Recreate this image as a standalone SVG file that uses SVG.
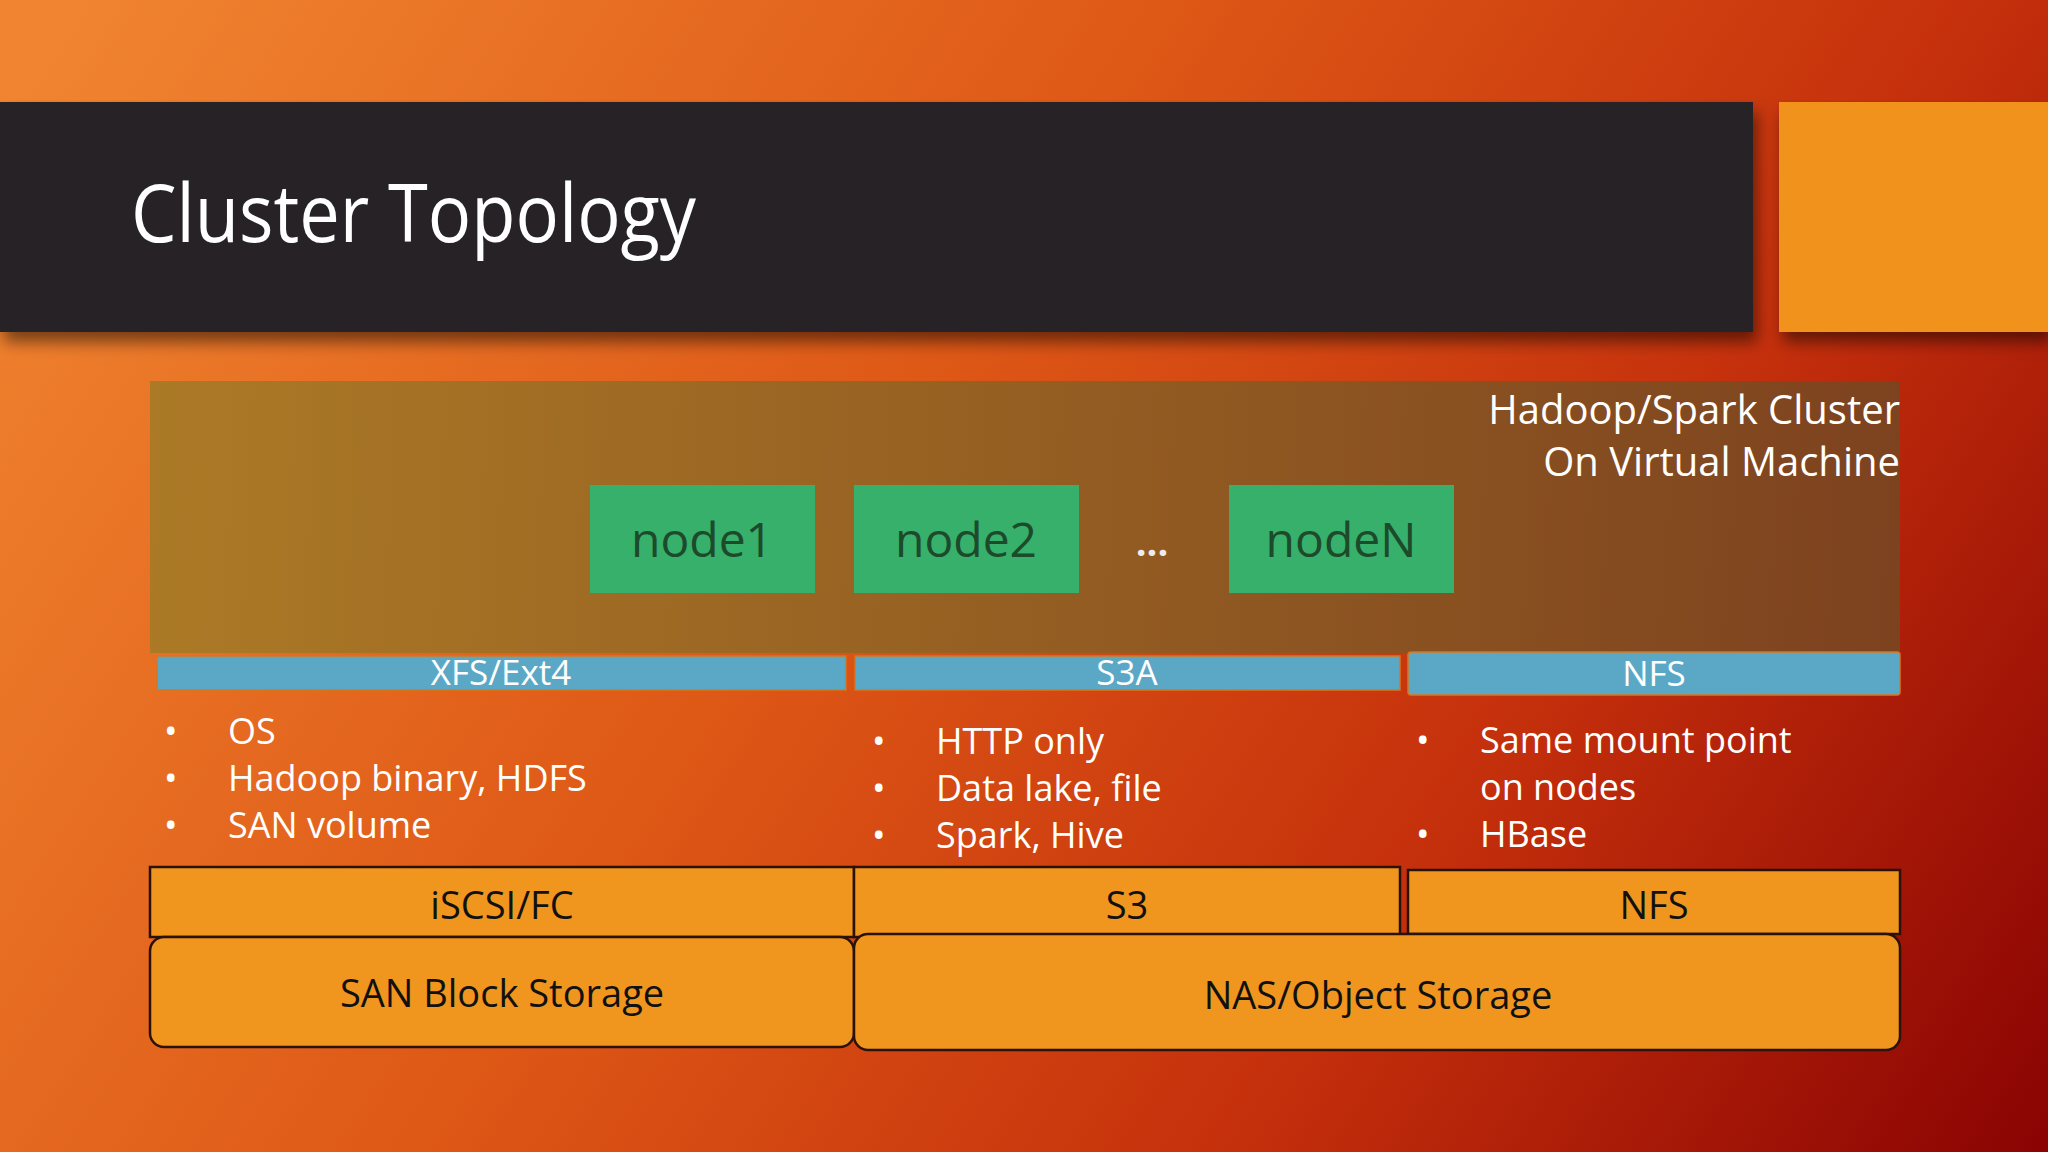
<svg xmlns="http://www.w3.org/2000/svg" width="2048" height="1152" viewBox="0 0 2048 1152">
  <defs>
    <linearGradient id="bg" gradientUnits="userSpaceOnUse" x1="150" y1="-100" x2="2048" y2="1152">
      <stop offset="0" stop-color="#F08430"/>
      <stop offset="0.4" stop-color="#DE5816"/>
      <stop offset="0.7" stop-color="#C5300C"/>
      <stop offset="1" stop-color="#8A0303"/>
    </linearGradient>
    <linearGradient id="cluster" x1="0" y1="0" x2="1" y2="0">
      <stop offset="0" stop-color="#A87A26" stop-opacity="0.95"/>
      <stop offset="1" stop-color="#7A4420" stop-opacity="0.95"/>
    </linearGradient>
    <filter id="shadow" x="-5%" y="-5%" width="110%" height="130%">
      <feGaussianBlur in="SourceAlpha" stdDeviation="8"/>
      <feOffset dx="4" dy="10"/>
      <feComponentTransfer><feFuncA type="linear" slope="0.5"/></feComponentTransfer>
      <feMerge><feMergeNode/><feMergeNode in="SourceGraphic"/></feMerge>
    </filter>
  </defs>
  <style>
    text { font-family: "Open Sans", "Noto Sans", "Liberation Sans", sans-serif; }
    .node rect { fill: #36B06A; }
    .node text { fill: #1C4A2A; font-size: 48px; text-anchor: middle; }
    .fs rect { fill: #5BA8C6; stroke: #D9761E; stroke-width: 1.5; }
    .fs text { fill: #FFFFFF; font-size: 35px; text-anchor: middle; }
    .proto rect, .store rect { fill: #F0951E; stroke: #2A1208; stroke-width: 2.5; }
    .proto text, .store text { fill: #111111; font-size: 38px; text-anchor: middle; }
    .bullets text { fill: #FFFFFF; font-size: 36px; }
  </style>

  <rect x="0" y="0" width="2048" height="1152" fill="url(#bg)"/>

  <g id="title-bar">
    <rect x="0" y="102" width="1753" height="230" fill="#262428" filter="url(#shadow)"/>
    <text x="131" y="242" fill="#FFFFFF" font-size="80" textLength="565" lengthAdjust="spacingAndGlyphs">Cluster Topology</text>
  </g>
  <g id="accent">
    <rect x="1779" y="102" width="269" height="230" fill="#F0921C" filter="url(#shadow)"/>
  </g>

  <g id="cluster">
    <rect x="150" y="381" width="1750" height="272" fill="url(#cluster)"/>
    <text x="1900" y="424" fill="#FFFFFF" font-size="40" text-anchor="end">Hadoop/Spark Cluster</text>
    <text x="1900" y="476" fill="#FFFFFF" font-size="40" text-anchor="end">On Virtual Machine</text>
  </g>

  <g id="node1" class="node">
    <rect x="590" y="485" width="225" height="108"/>
    <text x="702" y="557">node1</text>
  </g>
  <g id="node2" class="node">
    <rect x="854" y="485" width="225" height="108"/>
    <text x="966" y="557">node2</text>
  </g>
  <g id="ellipsis">
    <text x="1152" y="556" fill="#EDEDED" font-size="38" font-weight="bold" text-anchor="middle">...</text>
  </g>
  <g id="nodeN" class="node">
    <rect x="1229" y="485" width="225" height="108"/>
    <text x="1341" y="557">nodeN</text>
  </g>

  <g id="fs-xfs" class="fs">
    <rect x="157" y="656" width="689" height="34"/>
    <text x="501" y="685">XFS/Ext4</text>
  </g>
  <g id="fs-s3a" class="fs">
    <rect x="855" y="656" width="545" height="34"/>
    <text x="1127" y="685">S3A</text>
  </g>
  <g id="fs-nfs" class="fs">
    <rect x="1408" y="652" width="492" height="43" rx="3"/>
    <text x="1654" y="686">NFS</text>
  </g>

  <g id="bullets-xfs" class="bullets">
    <text x="164" y="744">•</text><text x="228" y="744">OS</text>
    <text x="164" y="791">•</text><text x="228" y="791">Hadoop binary, HDFS</text>
    <text x="164" y="838">•</text><text x="228" y="838">SAN volume</text>
  </g>
  <g id="bullets-s3a" class="bullets">
    <text x="872" y="754">•</text><text x="936" y="754">HTTP only</text>
    <text x="872" y="801">•</text><text x="936" y="801">Data lake, file</text>
    <text x="872" y="848">•</text><text x="936" y="848">Spark, Hive</text>
  </g>
  <g id="bullets-nfs" class="bullets">
    <text x="1416" y="753">•</text><text x="1480" y="753">Same mount point</text>
    <text x="1480" y="800">on nodes</text>
    <text x="1416" y="847">•</text><text x="1480" y="847">HBase</text>
  </g>

  <g id="proto-iscsi" class="proto">
    <rect x="150" y="867" width="704" height="70"/>
    <text x="502" y="919">iSCSI/FC</text>
  </g>
  <g id="proto-s3" class="proto">
    <rect x="854" y="867" width="546" height="70"/>
    <text x="1127" y="919">S3</text>
  </g>
  <g id="proto-nfs" class="proto">
    <rect x="1408" y="870" width="492" height="64"/>
    <text x="1654" y="919">NFS</text>
  </g>

  <g id="store-san" class="store">
    <rect x="150" y="937" width="704" height="110" rx="14"/>
    <text x="502" y="1007">SAN Block Storage</text>
  </g>
  <g id="store-nas" class="store">
    <rect x="854" y="934" width="1046" height="116" rx="14"/>
    <text x="1378" y="1009">NAS/Object Storage</text>
  </g>
</svg>
